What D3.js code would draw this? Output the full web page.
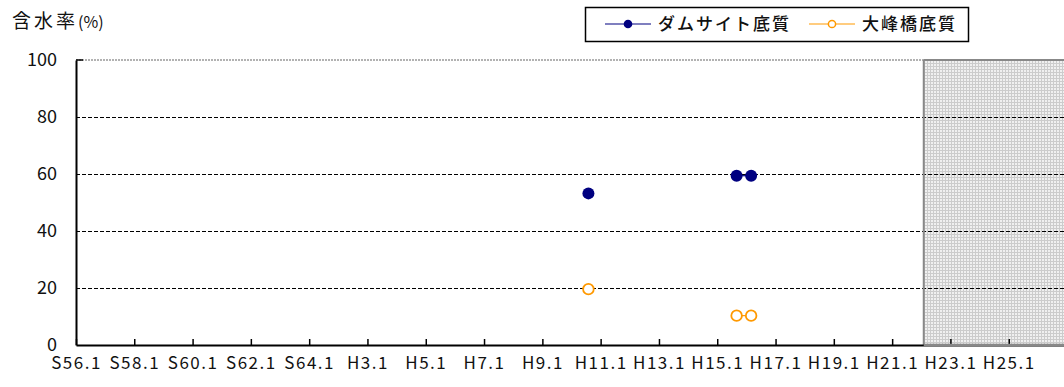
<!DOCTYPE html>
<html>
<head>
<meta charset="utf-8">
<script src="https://cdn.jsdelivr.net/npm/d3@7"></script>
<style>
  body { margin: 0; background: #fff; }
  text { font-family: "Noto Sans CJK JP", "Noto Sans", sans-serif; }
</style>
</head>
<body>
<div id="chart"></div>
<script>
// 含水率 chart, dam site vs 大峰橋 sediment

var w = 1064, h = 387;

// data (null = no survey, breaks the line)
var surveyDates = ['1998-08', null, '2003-09', '2004-03'];
var damSite = [53.2, null, 59.4, 59.4];
var ohmine = [19.6, null, 10.3, 10.3];

var tickYears = [1981, 1983, 1985, 1987, 1989, 1991, 1993, 1995, 1997, 1999, 2001, 2003, 2005, 2007, 2009, 2011, 2013];
var tickLabels = ['S56.1', 'S58.1', 'S60.1', 'S62.1', 'S64.1', 'H3.1', 'H5.1', 'H7.1', 'H9.1', 'H11.1', 'H13.1', 'H15.1', 'H17.1', 'H19.1', 'H21.1', 'H23.1', 'H25.1'];
var yTicks = [0, 20, 40, 60, 80, 100];
var shadeFrom = '2010-02';

// plot box (note: "top" is taken by window.top)
var pL = 76, pR = 1067, pT = 60, pB = 345;

var parse = d3.timeParse('%Y-%m');
var x = d3.scaleTime()
	.domain([new Date(1981, 0, 1), new Date(2015, 0, 1)])
	.range([pL, pR]);
var y = d3.scaleLinear().domain([0, 100]).range([pB, pT]);

var svg = d3.select('#chart').append('svg')
	.attr('width', w)
	.attr('height', h)
	.style('display', 'block');

// fine grey mesh for the shaded period
var defs = svg.append('defs');
var pat = defs.append('pattern')
	.attr('id', 'mesh')
	.attr('width', 3).attr('height', 3)
	.attr('patternUnits', 'userSpaceOnUse');
pat.append('rect').attr('width', 3).attr('height', 3).attr('fill', '#f0f0f0');
pat.append('rect').attr('width', 3).attr('height', 1).attr('fill', '#cccccc');
pat.append('rect').attr('width', 1).attr('height', 3).attr('fill', '#cccccc');

var sx = x(parse(shadeFrom));
svg.append('rect')
	.attr('x', sx).attr('y', pT)
	.attr('width', pR - sx).attr('height', pB - pT)
	.attr('fill', 'url(#mesh)');

// gridlines
svg.append('g')
	.attr('shape-rendering', 'crispEdges')
	.selectAll('line')
	.data(yTicks.filter(function(d) { return d > 0 && d < 100; }))
	.enter().append('line')
		.attr('x1', pL).attr('x2', pR)
		.attr('y1', function(d) { return y(d); })
		.attr('y2', function(d) { return y(d); })
		.attr('stroke', '#000')
		.attr('stroke-width', 1)
		.attr('stroke-dasharray', '4,2');

// top border (grey dotted) + shaded border
svg.append('line')
	.attr('x1', pL).attr('x2', pR)
	.attr('y1', y(100)).attr('y2', y(100))
	.attr('stroke', '#999').attr('stroke-width', 1.5)
	.attr('stroke-dasharray', '2,1');
svg.append('line')
	.attr('x1', sx).attr('x2', pR)
	.attr('y1', y(100)).attr('y2', y(100))
	.attr('stroke', '#888').attr('stroke-width', 2);
svg.append('line')
	.attr('x1', sx).attr('x2', sx)
	.attr('y1', pT).attr('y2', pB)
	.attr('stroke', '#888').attr('stroke-width', 2);
svg.append('line')
	.attr('x1', pL).attr('x2', pL + 7)
	.attr('y1', y(100)).attr('y2', y(100))
	.attr('stroke', '#000').attr('stroke-width', 1.5);

// x axis
var xAxis = d3.axisBottom(x)
	.tickValues(tickYears.map(function(yr) { return new Date(yr, 0, 1); }))
	.tickFormat(function(d, i) { return tickLabels[i]; })
	.tickSizeInner(-6)
	.tickSizeOuter(0)
	.tickPadding(12);
var gx = svg.append('g')
	.attr('transform', 'translate(0,' + pB + ')')
	.call(xAxis);
gx.select('.domain').attr('stroke', '#000').attr('stroke-width', 2);
gx.selectAll('.tick line').attr('stroke', '#000').attr('stroke-width', 1.5);
gx.selectAll('.tick text')
	.attr('fill', '#111')
	.style('font-size', '17px')
	.style('letter-spacing', '1.5px')
	.style('font-family', '"Noto Sans CJK JP", sans-serif');
// grey bottom under shaded part
svg.append('line')
	.attr('x1', sx).attr('x2', pR)
	.attr('y1', pB).attr('y2', pB)
	.attr('stroke', '#888').attr('stroke-width', 2.5);

// y axis
var yAxis = d3.axisLeft(y)
	.tickValues(yTicks)
	.tickSize(0)
	.tickPadding(19);
var gy = svg.append('g')
	.attr('transform', 'translate(' + pL + ',0)')
	.call(yAxis);
gy.select('.domain').attr('stroke', '#000').attr('stroke-width', 2);
gy.selectAll('.tick text')
	.attr('fill', '#111')
	.attr('dy', '0.3em')
	.style('font-size', '18px')
	.style('font-family', '"Noto Sans CJK JP", sans-serif');

// title
var title = svg.append('text')
	.attr('x', 12).attr('y', 28)
	.attr('fill', '#111')
	.style('font-size', '19px');
title.append('tspan').style('letter-spacing', '3px').text('含水率');
title.append('tspan').style('font-size', '16px').text('(%)');

// series
var series = [
	{ name: 'ダムサイト底質', values: damSite, color: '#000080', filled: true },
	{ name: '大峰橋底質', values: ohmine, color: '#FF9900', filled: false }
];

var line = d3.line()
	.defined(function(d) { return d.v != null; })
	.x(function(d) { return x(d.t); })
	.y(function(d) { return y(d.v); });

series.forEach(function(s) {
	var pts = surveyDates.map(function(dt, i) {
		return { t: dt ? parse(dt) : null, v: s.values[i] };
	});
	svg.append('path')
		.datum(pts)
		.attr('d', line)
		.attr('fill', 'none')
		.attr('stroke', s.color)
		.attr('stroke-width', 1.2);
	svg.append('g').selectAll('circle')
		.data(pts.filter(function(d) { return d.v != null; }))
		.enter().append('circle')
			.attr('cx', function(d) { return x(d.t); })
			.attr('cy', function(d) { return y(d.v); })
			.attr('r', s.filled ? 6 : 5.3)
			.attr('fill', s.filled ? s.color : '#fff')
			.attr('stroke', s.color)
			.attr('stroke-width', s.filled ? 0 : 1.8);
});

// legend
var lg = svg.append('g');
lg.append('rect')
	.attr('x', 585.5).attr('y', 7.5)
	.attr('width', 383).attr('height', 34)
	.attr('fill', '#fff')
	.attr('stroke', '#000').attr('stroke-width', 1.5);
var legendX = [605, 809];
series.forEach(function(s, i) {
	var lx = legendX[i];
	lg.append('line')
		.attr('x1', lx).attr('x2', lx + 46)
		.attr('y1', 24).attr('y2', 24)
		.attr('stroke', s.color).attr('stroke-width', 1.2);
	lg.append('circle')
		.attr('cx', lx + 23).attr('cy', 24)
		.attr('r', s.filled ? 4.3 : 3.6)
		.attr('fill', s.filled ? s.color : '#fff')
		.attr('stroke', s.color)
		.attr('stroke-width', s.filled ? 0 : 1.5);
	lg.append('text')
		.attr('x', lx + 53).attr('y', 30)
		.style('font-size', '17px')
		.style('letter-spacing', '2px')
		.style('font-weight', 500)
		.attr('fill', '#111')
		.text(s.name);
});
</script>
</body>
</html>
